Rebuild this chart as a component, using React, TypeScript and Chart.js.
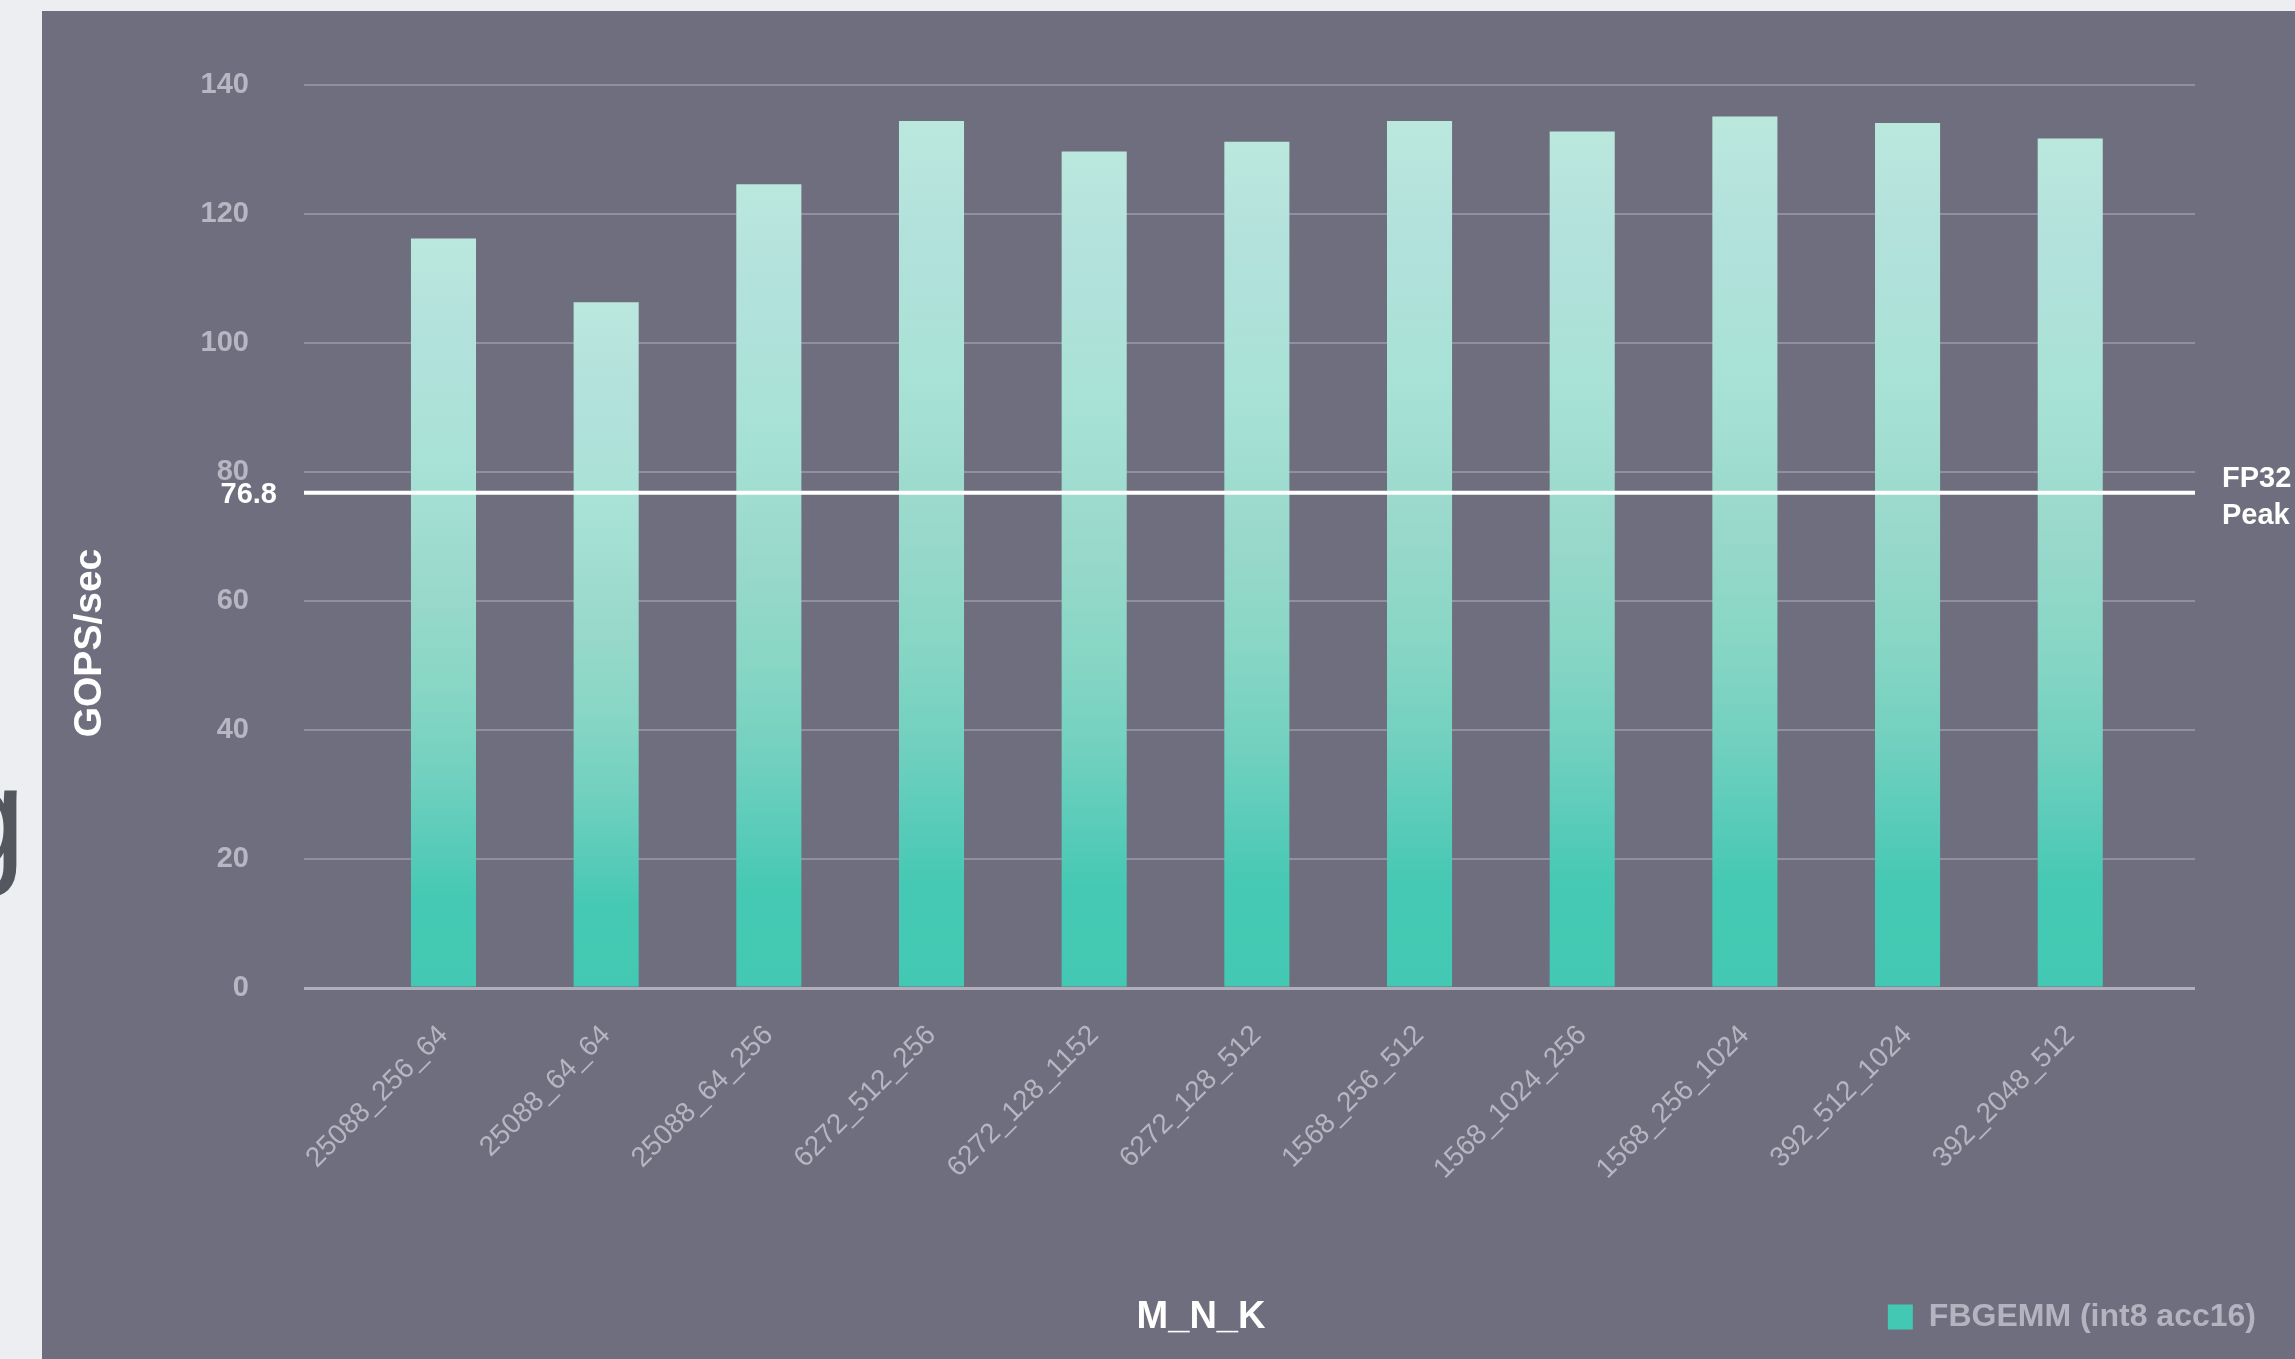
import React, { useEffect, useRef } from 'react';
import { Chart, registerables } from 'chart.js';

Chart.register(...registerables);

// ---- data ----
const CATEGORIES = [
  '25088_256_64',
  '25088_64_64',
  '25088_64_256',
  '6272_512_256',
  '6272_128_1152',
  '6272_128_512',
  '1568_256_512',
  '1568_1024_256',
  '1568_256_1024',
  '392_512_1024',
  '392_2048_512',
];
const GOPS = [116.2, 106.3, 124.6, 134.4, 129.7, 131.2, 134.4, 132.8, 135.1, 134.1, 131.7];
const SERIES_LABEL = 'FBGEMM (int8 acc16)';
const FP32_PEAK = 76.8;
const FP32_PEAK_LABEL = ['FP32', 'Peak'];
const Y_MIN = 0;
const Y_MAX = 140;
const Y_STEP = 20;
const X_TITLE = 'M_N_K';
const Y_TITLE = 'GOPS/sec';
// x-range (category index units) covered by the grid lines
const X_MIN = -0.8575;
const X_MAX = 10.767;

const FONT = '"Liberation Sans", Arial, Helvetica, sans-serif';
const SWATCH = '#5ccfbb';
const BAR_STOPS: [number, string][] = [
  [0, '#bbe8dd'],
  [0.12, '#b3e1dc'],
  [0.3, '#a8e2d6'],
  [0.45, '#9bd9cd'],
  [0.6, '#88d6c5'],
  [0.72, '#71d0bf'],
  [0.82, '#56cbb8'],
  [0.88, '#45c9b4'],
  [1, '#43c9b3'],
];

export default function App() {
  const ref = useRef<HTMLCanvasElement>(null);

  useEffect(() => {
    const canvas = ref.current;
    if (!canvas) return;

    const barFill = (ctx: any) => {
      const chart = ctx.chart;
      const area = chart.chartArea;
      if (!area || ctx.type !== 'data' || !ctx.parsed) return SWATCH;
      const ys = chart.scales.y;
      const top = ys.getPixelForValue(ctx.parsed.y);
      const bottom = ys.getPixelForValue(0);
      if (!isFinite(top) || !isFinite(bottom) || bottom - top < 1) return SWATCH;
      const g = chart.ctx.createLinearGradient(0, top, 0, bottom);
      BAR_STOPS.forEach(([o, c]) => g.addColorStop(o, c));
      return g;
    };

    const overlay = {
      id: 'overlay',
      afterDraw(chart: any) {
        const { ctx, chartArea } = chart;
        const ys = chart.scales.y;
        const yp = ys.getPixelForValue(FP32_PEAK);
        ctx.save();
        ctx.fillStyle = '#ffffff';
        ctx.textBaseline = 'middle';
        // value label on the left
        ctx.font = `bold 29px ${FONT}`;
        ctx.textAlign = 'right';
        ctx.fillText(String(FP32_PEAK), chartArea.left - 27, yp + 2);
        // FP32 Peak label on the right
        ctx.textAlign = 'left';
        ctx.fillText(FP32_PEAK_LABEL[0], chartArea.right + 27, yp - 14);
        ctx.fillText(FP32_PEAK_LABEL[1], chartArea.right + 27, yp + 23);
        // x title
        ctx.font = `bold 38px ${FONT}`;
        ctx.textAlign = 'center';
        ctx.fillText(X_TITLE, chartArea.left + 897, chartArea.bottom + 330);
        // y title
        ctx.translate(chartArea.left - 214, chartArea.top + 558);
        ctx.rotate(-Math.PI / 2);
        ctx.font = `bold 39px ${FONT}`;
        ctx.textAlign = 'center';
        ctx.fillText(Y_TITLE, 0, 0);
        ctx.restore();
      },
    };

    const chart = new Chart(canvas, {
      type: 'bar',
      data: {
        datasets: [
          {
            type: 'bar',
            label: SERIES_LABEL,
            data: CATEGORIES.map((_, i) => ({ x: i, y: GOPS[i] })),
            backgroundColor: barFill,
            borderWidth: 0,
            barPercentage: 0.4,
            categoryPercentage: 1,
            order: 1,
            xAxisID: 'x',
            yAxisID: 'y',
          } as any,
          {
            type: 'line',
            label: 'FP32 Peak',
            data: [
              { x: X_MIN, y: FP32_PEAK },
              { x: X_MAX, y: FP32_PEAK },
            ],
            borderColor: '#ffffff',
            borderWidth: 4,
            pointRadius: 0,
            fill: false,
            order: 0,
            xAxisID: 'x',
            yAxisID: 'y',
          } as any,
        ],
      },
      options: {
        responsive: false,
        devicePixelRatio: 1,
        animation: false,
        layout: { padding: { left: 0, top: 74, right: 29, bottom: 16 } },
        plugins: {
          tooltip: { enabled: false },
          legend: {
            position: 'bottom',
            align: 'end',
            labels: {
              filter: (item: any) => item.datasetIndex === 0,
              color: '#b4b3bf',
              font: { family: FONT, size: 32, weight: 'bold' },
              boxWidth: 25,
              boxHeight: 25,
              padding: 10,
            },
          },
        },
        scales: {
          x: {
            type: 'linear',
            offset: false,
            min: X_MIN,
            max: X_MAX,
            grid: { display: false, drawTicks: false, offset: false },
            border: { display: false },
            afterBuildTicks: (s: any) => {
              s.ticks = CATEGORIES.map((_, i) => ({ value: i }));
            },
            afterFit: (s: any) => {
              s.height = 303;
            },
            ticks: {
              autoSkip: false,
              minRotation: 45,
              maxRotation: 45,
              padding: 31,
              color: '#b6b5c1',
              font: { family: FONT, size: 28 },
              callback: (v: any) => CATEGORIES[v] ?? '',
            },
          },
          y: {
            type: 'linear',
            position: 'left',
            min: Y_MIN,
            max: Y_MAX,
            afterFit: (s: any) => {
              s.width = 262;
            },
            ticks: {
              stepSize: Y_STEP,
              padding: 55,
              color: '#b7b6c2',
              font: { family: FONT, size: 29, weight: 'bold' },
            },
            grid: {
              drawTicks: false,
              color: (c: any) => (c.tick && c.tick.value === 0 ? '#b0afbb' : '#9190a0'),
              lineWidth: (c: any) => (c.tick && c.tick.value === 0 ? 3 : 2),
            },
            border: { display: false },
          },
          y2: {
            type: 'linear',
            position: 'right',
            min: Y_MIN,
            max: Y_MAX,
            ticks: { display: false },
            grid: { display: false, drawTicks: false },
            border: { display: false },
            afterFit: (s: any) => {
              s.width = 71;
            },
          },
        },
      } as any,
      plugins: [overlay],
    });

    return () => chart.destroy();
  }, []);

  return (
    <div
      style={{
        position: 'fixed',
        left: 0,
        top: 0,
        width: 2295,
        height: 1359,
        background: '#edeef2',
        overflow: 'hidden',
      }}
    >
      <span
        style={{
          position: 'absolute',
          left: -55,
          top: 745,
          fontFamily: FONT,
          fontSize: 146,
          lineHeight: 1,
          color: '#54575e',
        }}
      >
        g
      </span>
      <div
        style={{
          position: 'absolute',
          left: 42,
          top: 11,
          width: 2253,
          height: 1348,
          background: '#6f6e7e',
        }}
      >
        <canvas ref={ref} width={2253} height={1348} style={{ display: 'block', width: 2253, height: 1348 }} />
      </div>
    </div>
  );
}
